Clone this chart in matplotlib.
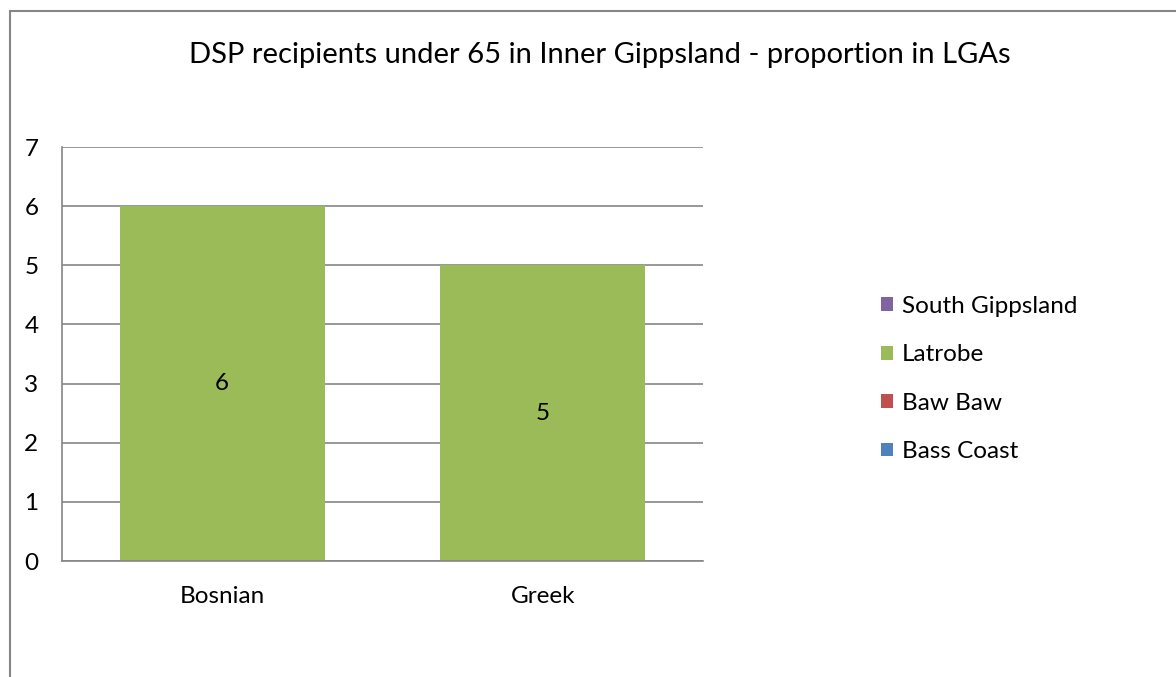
import matplotlib.pyplot as plt
import numpy as np
from matplotlib.patches import Rectangle

plt.rcParams["font.family"] = ["Lato", "DejaVu Sans"]

categories = ["Bosnian", "Greek"]
series_names = ["Bass Coast", "Baw Baw", "Latrobe", "South Gippsland"]
bass_coast = [0, 0]
baw_baw = [0, 0]
latrobe = [6, 5]
south_gippsland = [0, 0]
series_values = [bass_coast, baw_baw, latrobe, south_gippsland]
series_colors = ["#4F81BD", "#C0504D", "#9BBB59", "#8064A2"]

_grid = "#868686"
_fs = 17.5

fig = plt.figure(figsize=(11.76, 6.77), dpi=100)
ax = fig.add_axes([62 / 1176, 116 / 677, 641 / 1176, 414 / 677])

x = np.arange(len(categories))
bottom = np.zeros(len(categories))
handles = []
for name, vals, col in zip(series_names, series_values, series_colors):
    vals = np.array(vals, dtype=float)
    bars = ax.bar(x, vals, width=0.64, bottom=bottom, color=col, linewidth=0, label=name, zorder=2)
    for xi, v, b in zip(x, vals, bottom):
        if v > 0:
            ax.text(xi, b + v / 2, f"{v:g}", ha="center", va="center", fontsize=_fs, color="black", zorder=3)
    bottom += vals
    handles.append(bars)

ax.set_xlim(-0.5, 1.5)
ax.set_ylim(0, 7)
ax.set_yticks(range(0, 8))
ax.set_xticks(x)
ax.set_xticklabels(categories)
ax.tick_params(axis="both", length=0, labelsize=_fs, colors="black")
ax.tick_params(axis="y", pad=17)
ax.tick_params(axis="x", pad=18)
ax.yaxis.grid(True, color=_grid, linewidth=1.2, zorder=0)
ax.set_axisbelow(True)
for side in ["top", "right"]:
    ax.spines[side].set_visible(False)
for side in ["left", "bottom"]:
    ax.spines[side].set_color(_grid)
    ax.spines[side].set_linewidth(1.2)

fig.text(600 / 1176, 1 - 55 / 677, "DSP recipients under 65 in Inner Gippsland - proportion in LGAs",
         ha="center", va="center", fontsize=21)

leg = fig.legend(handles[::-1], series_names[::-1], loc="center left",
                 bbox_to_anchor=(859 / 1176, 1 - 379 / 677), frameon=False,
                 fontsize=_fs, handlelength=0.5, handleheight=0.5,
                 handletextpad=0.35, labelspacing=1.13)

fig.add_artist(Rectangle((10 / 1176, -0.1), 1.2, 1 - 11 / 677 + 0.1,
                         transform=fig.transFigure, fill=False,
                         edgecolor=_grid, linewidth=1.5))

fig.savefig("out.png", dpi=100)
